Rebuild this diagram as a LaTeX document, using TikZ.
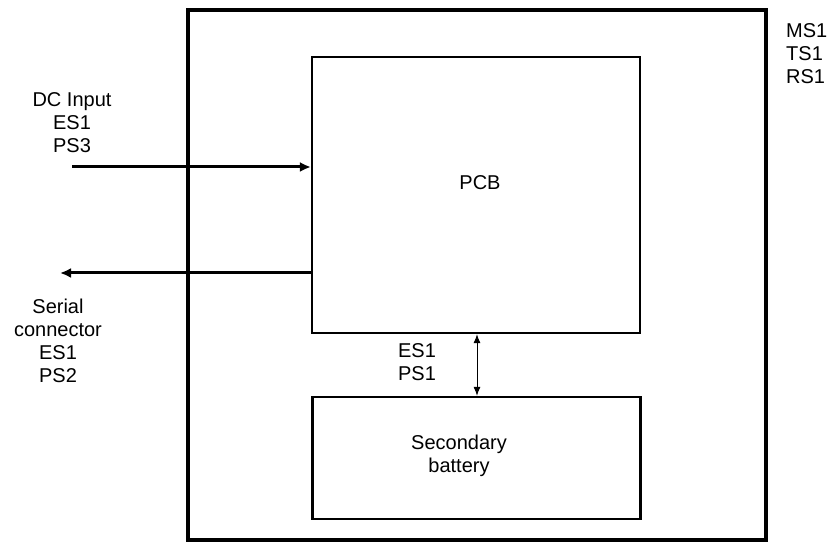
\documentclass[tikz,border=0pt]{standalone}
\usepackage{fontspec}
\setmainfont{Liberation Sans}
\usetikzlibrary{arrows.meta}
\begin{document}
\begin{tikzpicture}[x=1pt, y=-1pt,
    enclosure/.style={rectangle, draw, line width=3.2pt, minimum width=578pt, minimum height=530pt},
    block/.style={rectangle, draw, line width=2.2pt, minimum width=328pt},
    txt/.style={font=\fontsize{20}{23}\selectfont, align=center, inner sep=0pt},
    sig/.style={line width=3pt, -{Latex[length=11pt, width=10pt]}}]
    \useasboundingbox (0,0) rectangle (831,545);
    \node [enclosure] (case) at (477,275) {};
    \node [block, minimum height=276pt] (pcb) at (476,195) {};
    \node [block, minimum height=122pt] (battery) at (476.5,458) {};
    \node [txt] (pcbtext) at (480,183) {PCB};
    \node [txt] (battext) at (459,456) {Secondary\\battery};
    \node [txt, align=left, anchor=west] (marks) at (786,54) {MS1\\TS1\\RS1};
    \node [txt] (dctext) at (72,123) {DC Input\\ES1\\PS3};
    \node [txt] (sertext) at (58,341) {Serial\\connector\\ES1\\PS2};
    \node [txt, align=left] (battif) at (417,362) {ES1\\PS1};

    \coordinate (dcin) at (72,167);
    \coordinate (serout) at (60,273);
    \draw [sig] (dcin) -- (pcb.west |- dcin);
    \draw [sig] (pcb.west |- serout) -- (serout);
    \draw [line width=1pt, {Latex[length=9pt, width=7pt]}-{Latex[length=9pt, width=7pt]}] (pcb.south -| 477,0) -- (battery.north -| 477,0);
\end{tikzpicture}
\end{document}
